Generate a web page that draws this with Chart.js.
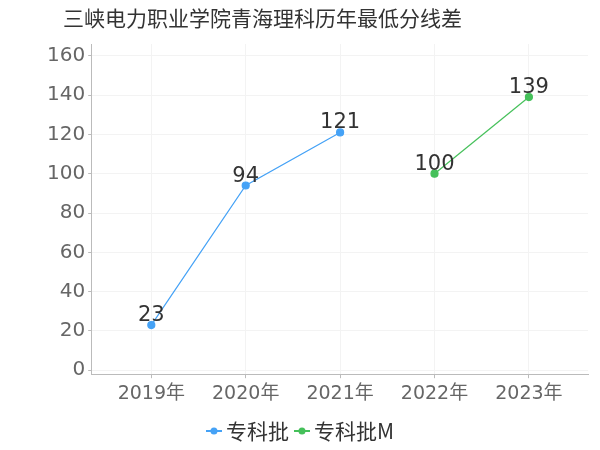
<!DOCTYPE html>
<html>
<head>
<meta charset="utf-8">
<script src="https://cdn.jsdelivr.net/npm/chart.js@4/dist/chart.umd.min.js"></script>
<style>
  html, body { margin: 0; padding: 0; background: #fff; }
  #wrap { width: 600px; height: 450px; }
</style>
</head>
<body>
<div id="wrap"><canvas id="scoreChart" width="600" height="450"></canvas></div>
<script>
const titleText = "三峡电力职业学院青海理科历年最低分线差";
const years = ["2019年", "2020年", "2021年", "2022年", "2023年"];
const zhuanke = [23, 94, 121, null, null];
const zhuankeM = [null, null, null, 100, 139];
const yTicks = [0, 20, 40, 60, 80, 100, 120, 140, 160];

const BLUE = "#45a2f6";
const GREEN = "#45c05a";
const FONT = "'DejaVu Sans', 'Noto Sans CJK SC', sans-serif";
const CJK = "'Noto Sans CJK SC', 'DejaVu Sans', sans-serif";

// turn a series into {x, y} points on the index scale
const toPoints = (arr) => arr.map((v, i) => ({ x: i, y: v }));

const titlePlugin = {
  id: "leftTitle",
  afterDraw(chart) {
    const ctx = chart.ctx;
    ctx.save();
    ctx.font = "21px " + CJK;
    ctx.fillStyle = "#333";
    ctx.textAlign = "left";
    ctx.textBaseline = "middle";
    ctx.fillText(titleText, 63, 18);
    ctx.restore();
  },
};

// bottom legend: line-with-dot marker, tight spacing
const legendPlugin = {
  id: "tightLegend",
  afterDraw(chart) {
    const ctx = chart.ctx;
    const ds = chart.data.datasets;
    ctx.save();
    ctx.font = "21px " + CJK;
    const markW = 16, gap = 4, itemGap = 5;
    const widths = ds.map((d) => markW + gap + ctx.measureText(d.label).width);
    const total = widths.reduce((a, b) => a + b, 0) + itemGap * (ds.length - 1);
    let x = 300 - total / 2;
    const y = 431;
    ds.forEach((d, i) => {
      ctx.strokeStyle = d.borderColor;
      ctx.lineWidth = 2;
      ctx.beginPath();
      ctx.moveTo(x, y);
      ctx.lineTo(x + markW, y);
      ctx.stroke();
      ctx.fillStyle = d.borderColor;
      ctx.beginPath();
      ctx.arc(x + markW / 2, y, 3.5, 0, Math.PI * 2);
      ctx.fill();
      ctx.fillStyle = "#333";
      ctx.textAlign = "left";
      ctx.textBaseline = "middle";
      ctx.fillText(d.label, x + markW + gap, y);
      x += widths[i] + itemGap;
    });
    ctx.restore();
  },
};

const valueLabels = {
  id: "valueLabels",
  afterDatasetsDraw(chart) {
    const ctx = chart.ctx;
    ctx.save();
    ctx.font = "21px " + FONT;
    ctx.fillStyle = "#333";
    ctx.textAlign = "center";
    ctx.textBaseline = "alphabetic";
    chart.data.datasets.forEach((ds, i) => {
      chart.getDatasetMeta(i).data.forEach((pt, j) => {
        const v = ds.data[j].y;
        if (v == null) return;
        ctx.fillText(String(v), pt.x, pt.y - 4);
      });
    });
    ctx.restore();
  },
};

const ctx = document.getElementById("scoreChart").getContext("2d");
const chart = new Chart(ctx, {
  type: "line",
  data: {
    datasets: [
      {
        label: "专科批",
        data: toPoints(zhuanke),
        borderColor: BLUE,
        backgroundColor: BLUE,
        borderWidth: 1.2,
        pointRadius: 3.5,
        pointHoverRadius: 3.5,
        spanGaps: false,
      },
      {
        label: "专科批M",
        data: toPoints(zhuankeM),
        borderColor: GREEN,
        backgroundColor: GREEN,
        borderWidth: 1.2,
        pointRadius: 3.5,
        pointHoverRadius: 3.5,
        spanGaps: false,
      },
    ],
  },
  options: {
    responsive: false,
    animation: false,
    layout: { padding: { top: 44, right: 12, left: 44, bottom: 41 } },
    scales: {
      x: {
        type: "linear",
        min: -0.637,
        max: 4.626,
        border: { display: true, color: "#bbb" },
        grid: { color: "#f3f3f3", tickLength: 4, tickColor: "#bbb" },
        afterBuildTicks: (axis) => {
          axis.ticks = years.map((_, i) => ({ value: i }));
        },
        ticks: {
          color: "#666",
          font: { size: 19, family: FONT },
          padding: 4,
          maxRotation: 0,
          callback: (v) => years[v],
        },
      },
      y: {
        min: -2,
        max: 166,
        border: { display: true, color: "#bbb" },
        grid: { color: "#f3f3f3", tickLength: 3, tickColor: "#bbb" },
        afterBuildTicks: (axis) => {
          axis.ticks = yTicks.map((v) => ({ value: v }));
        },
        ticks: {
          color: "#666",
          font: { size: 20, family: FONT },
          padding: 3,
        },
      },
    },
    plugins: {
      title: { display: false },
      tooltip: { enabled: false },
      legend: { display: false },
    },
  },
  plugins: [titlePlugin, legendPlugin, valueLabels],
});
</script>
</body>
</html>
